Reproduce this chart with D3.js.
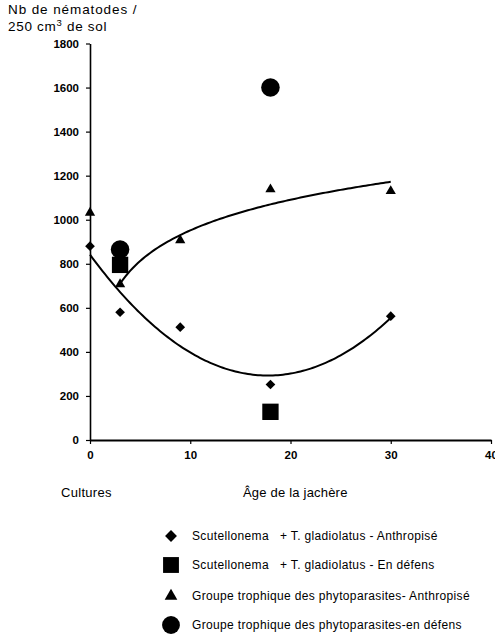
<!DOCTYPE html>
<html>
<head>
<meta charset="utf-8">
<script src="https://cdn.jsdelivr.net/npm/d3@7"></script>
<style>
  body { margin: 0; background: #fff; }
  text { font-family: "Liberation Sans", Arial, sans-serif; fill: #000; }
</style>
</head>
<body>
<div class="container"></div>
<script>
// values
var scutAnthX = [0, 3, 9, 18, 30];
var scutAnthY = [880, 580, 512, 252, 562];
var scutDefX = [3, 18];
var scutDefY = [795, 128];
var phytoAnthX = [0, 3, 9, 18, 30];
var phytoAnthY = [1032, 707, 907, 1138, 1130];
var phytoDefX = [3, 18];
var phytoDefY = [865, 1600];
var xTicks = [0, 10, 20, 30, 40];
var yTicks = [0, 200, 400, 600, 800, 1000, 1200, 1400, 1600, 1800];
var legendLabels = [
  "Scutellonema   + T. gladiolatus - Anthropisé",
  "Scutellonema   + T. gladiolatus - En défens",
  "Groupe trophique des phytoparasites- Anthropisé",
  "Groupe trophique des phytoparasites-en défens"
];

const WIDTH = 495;
const HEIGHT = 638;
const X0 = 90, X1 = 491;
const Y0 = 440, Y1 = 43.5;

var _svg, _xScale, _yScale;

var translate = function (x, y) {
  return "translate(" + x + "," + y + ")";
};

var zip = function (xs, ys) {
  return xs.map(function (x, i) { return { x: x, y: ys[i] }; });
};

// least squares quadratic y = a + b x + c x^2
var quadFit = function (xs, ys) {
  var n = xs.length, S = [0, 0, 0, 0, 0], T = [0, 0, 0];
  for (var i = 0; i < n; i++) {
    for (var k = 0; k < 5; k++) S[k] += Math.pow(xs[i], k);
    for (var k = 0; k < 3; k++) T[k] += ys[i] * Math.pow(xs[i], k);
  }
  var M = [[S[0], S[1], S[2], T[0]], [S[1], S[2], S[3], T[1]], [S[2], S[3], S[4], T[2]]];
  for (var c = 0; c < 3; c++) {
    for (var r = c + 1; r < 3; r++) {
      var f = M[r][c] / M[c][c];
      for (var j = c; j < 4; j++) M[r][j] -= f * M[c][j];
    }
  }
  var sol = [0, 0, 0];
  for (var r = 2; r >= 0; r--) {
    var s = M[r][3];
    for (var j = r + 1; j < 3; j++) s -= M[r][j] * sol[j];
    sol[r] = s / M[r][r];
  }
  return function (x) { return sol[0] + sol[1] * x + sol[2] * x * x; };
};

// least squares log fit y = a + b ln(x), x > 0 only
var logFit = function (xs, ys) {
  var pts = zip(xs, ys).filter(function (p) { return p.x > 0; });
  var lx = pts.map(function (p) { return Math.log(p.x); });
  var mx = d3.mean(lx), my = d3.mean(pts, function (p) { return p.y; });
  var sxy = 0, sxx = 0;
  pts.forEach(function (p, i) {
    sxy += (lx[i] - mx) * (p.y - my);
    sxx += (lx[i] - mx) * (lx[i] - mx);
  });
  var b = sxy / sxx, a = my - b * mx;
  return function (x) { return a + b * Math.log(x); };
};

var createAllAxis = function () {
  _svg = d3.select('.container').append('svg')
    .attr('width', WIDTH)
    .attr('height', HEIGHT);

  _xScale = d3.scaleLinear().domain([0, 40]).range([X0, X1]);
  _yScale = d3.scaleLinear().domain([0, 1800]).range([Y0, Y1]);

  var xAxis = d3.axisBottom(_xScale).tickValues(xTicks).tickFormat(d3.format('d'))
    .tickSize(4).tickSizeOuter(0);
  var yAxis = d3.axisLeft(_yScale).tickValues(yTicks).tickFormat(d3.format('d'))
    .tickSize(4).tickSizeOuter(0);

  var gx = _svg.append('g').attr('transform', translate(0, Y0)).call(xAxis);
  var gy = _svg.append('g').attr('transform', translate(X0, 0)).call(yAxis);

  [gx, gy].forEach(function (g) {
    g.select('.domain').attr('stroke', '#000').attr('stroke-width', 1.6);
    g.selectAll('.tick line').attr('stroke', '#000').attr('stroke-width', 1.2);
    g.selectAll('.tick text')
      .attr('font-size', 11.5)
      .attr('font-weight', 'bold')
      .attr('fill', '#111')
      .style('font-family', '"Liberation Sans", Arial, sans-serif');
  });
  gx.selectAll('.tick text').attr('dy', '1.05em');
  gy.selectAll('.tick text').attr('x', -11);
  gx.select('.domain').attr('stroke-width', 2);

  _svg.append('text').attr('x', 8).attr('y', 14).attr('font-size', 13.5)
    .attr('letter-spacing', 0.9).text('Nb de nématodes /');
  var t2 = _svg.append('text').attr('x', 8).attr('y', 31).attr('font-size', 13.5)
    .attr('letter-spacing', 0.7);
  t2.append('tspan').text('250 cm');
  t2.append('tspan').attr('dy', -5).attr('font-size', 9.5).text('3');
  t2.append('tspan').attr('dy', 5).text(' de sol');

  _svg.append('text').attr('x', 61).attr('y', 497).attr('font-size', 13)
    .attr('letter-spacing', 0.3).text('Cultures');
  _svg.append('text').attr('x', 243).attr('y', 497).attr('font-size', 13)
    .attr('letter-spacing', 0.2).text('Âge de la jachère');
};

var symbolPath = function (type, size) {
  return d3.symbol().type(type).size(size)();
};

var drawMarks = function () {
  var plot = _svg.append('g');

  var quad = quadFit(scutAnthX, scutAnthY);
  var lg = logFit(phytoAnthX, phytoAnthY);
  var line = d3.line()
    .x(function (d) { return _xScale(d.x); })
    .y(function (d) { return _yScale(d.y); });

  var lowX = d3.range(0, 30.01, 0.25);
  var upX = d3.range(3, 30.01, 0.25);
  plot.append('path')
    .attr('d', line(lowX.map(function (x) { return { x: x, y: quad(x) }; })))
    .attr('fill', 'none').attr('stroke', '#000').attr('stroke-width', 2);
  plot.append('path')
    .attr('d', line(upX.map(function (x) { return { x: x, y: lg(x) }; })))
    .attr('fill', 'none').attr('stroke', '#000').attr('stroke-width', 2);

  var series = [
    { pts: zip(scutAnthX, scutAnthY), path: symbolPath(d3.symbolDiamond2, 60) },
    { pts: zip(phytoAnthX, phytoAnthY), path: symbolPath(d3.symbolTriangle2, 75) },
    { pts: zip(phytoDefX, phytoDefY), path: symbolPath(d3.symbolCircle, 270) },
    { pts: zip(scutDefX, scutDefY), path: symbolPath(d3.symbolSquare2, 340) }
  ];
  series.forEach(function (s) {
    plot.selectAll(null).data(s.pts).enter().append('path')
      .attr('d', s.path)
      .attr('fill', '#000')
      .attr('transform', function (d) { return translate(_xScale(d.x), _yScale(d.y)); });
  });
};

var drawLegend = function () {
  var shapes = [
    symbolPath(d3.symbolDiamond2, 90),
    symbolPath(d3.symbolSquare2, 320),
    symbolPath(d3.symbolTriangle2, 115),
    symbolPath(d3.symbolCircle, 250)
  ];
  var rows = [536, 565, 596, 625];
  var lg = _svg.append('g');
  legendLabels.forEach(function (label, i) {
    lg.append('path').attr('d', shapes[i]).attr('fill', '#000')
      .attr('transform', translate(171, rows[i]));
    lg.append('text').attr('x', 192).attr('y', rows[i] + 4)
      .attr('font-size', 12).attr('letter-spacing', 0.35)
      .style('white-space', 'pre').text(label);
  });
};

var onload = function () {
  createAllAxis();
  drawMarks();
  drawLegend();
};

window.onload = onload;
</script>
</body>
</html>
